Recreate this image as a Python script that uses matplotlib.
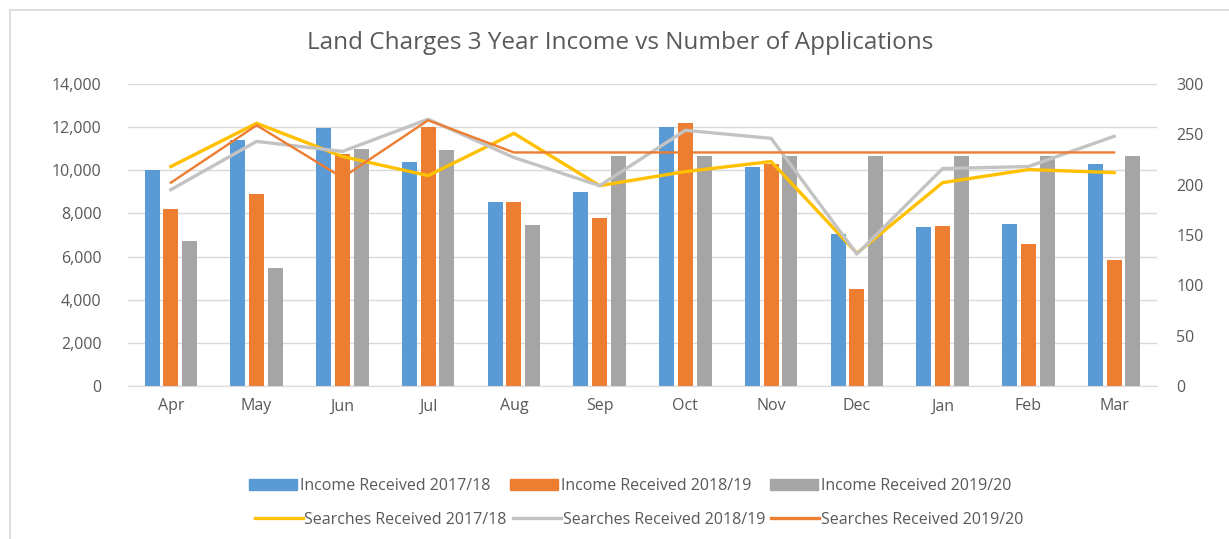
import numpy as np
import matplotlib.pyplot as plt
from matplotlib.patches import Rectangle
from matplotlib.lines import Line2D
from matplotlib.ticker import FuncFormatter

plt.rcParams['font.family'] = ['Open Sans', 'DejaVu Sans']

# data
months = ['Apr', 'May', 'Jun', 'Jul', 'Aug', 'Sep', 'Oct', 'Nov', 'Dec', 'Jan', 'Feb', 'Mar']

income_1718 = [10000, 11400, 11950, 10400, 8550, 9000, 12000, 10150, 7050, 7350, 7500, 10300]
income_1819 = [8200, 8900, 10750, 12000, 8550, 7800, 12200, 10300, 4500, 7400, 6600, 5850]
income_1920 = [6700, 5450, 11000, 10950, 7450, 10650, 10650, 10650, 10650, 10650, 10650, 10650]

searches_1718 = [218, 261, 228, 209, 251, 199, 213, 223, 132, 202, 215, 212]
searches_1819 = [195, 243, 233, 265, 227, 199, 254, 246, 131, 216, 218, 248]
searches_1920 = [202, 259, 207, 264, 232, 232, 232, 232, 232, 232, 232, 232]

blue = '#5B9BD5'
orange = '#ED7D31'
grey = '#A5A5A5'
yellow = '#FFC000'
lightgrey = '#C3C3C3'
txt = '#595959'

fig = plt.figure(figsize=(12.29, 5.39), dpi=100)
ax = fig.add_axes([128/1229, 1 - 386/539, (1157 - 128)/1229, (386 - 84)/539])

x = np.arange(len(months))
w = 0.175
step = 0.22
ax.bar(x - step, income_1718, w, color=blue, zorder=2)
ax.bar(x, income_1819, w, color=orange, zorder=2)
ax.bar(x + step, income_1920, w, color=grey, zorder=2)

ax.set_xlim(-0.5, len(months) - 0.5)
ax.set_ylim(0, 14000)
ax.set_yticks(np.arange(0, 14001, 2000))
ax.yaxis.set_major_formatter(FuncFormatter(lambda v, p: '{:,.0f}'.format(v)))
ax.set_xticks(x)
ax.set_xticklabels(months)
ax.grid(axis='y', color='#D9D9D9', linewidth=1)
ax.set_axisbelow(True)
for s in ['top', 'left', 'right']:
    ax.spines[s].set_visible(False)
ax.spines['bottom'].set_color('#D9D9D9')
ax.tick_params(axis='both', length=0, labelsize=11.5, colors=txt)
ax.tick_params(axis='y', pad=19)
ax.tick_params(axis='x', pad=9)

ax2 = ax.twinx()
ax2.plot(x, searches_1718, color=yellow, linewidth=2.4, zorder=3)
ax2.plot(x, searches_1819, color=lightgrey, linewidth=2.4, zorder=3)
ax2.plot(x, searches_1920, color=orange, linewidth=1.7, zorder=4)
ax2.set_ylim(0, 300)
ax2.set_yticks(np.arange(0, 301, 50))
for s in ['top', 'left', 'right', 'bottom']:
    ax2.spines[s].set_visible(False)
ax2.tick_params(axis='y', length=0, labelsize=11.5, colors=txt, pad=14)

fig.text(0.505, 1 - 43/539, 'Land Charges 3 Year Income vs Number of Applications',
         ha='center', va='center', fontsize=17.5, color=txt)

# chart frame (only left and top edges are visible)
fig.patches.append(Rectangle((10/1229, -0.1), 1.2, 1.1 - 10/539, transform=fig.transFigure,
                             fill=False, edgecolor='#D9D9D9', linewidth=1.2))

bar_handles = [Rectangle((0, 0), 1, 1, color=c) for c in [blue, orange, grey]]
bar_labels = ['Income Received 2017/18', 'Income Received 2018/19', 'Income Received 2019/20']
line_handles = [Line2D([0], [0], color=yellow, linewidth=2.4),
                Line2D([0], [0], color=lightgrey, linewidth=2.4),
                Line2D([0], [0], color=orange, linewidth=2.4)]
line_labels = ['Searches Received 2017/18', 'Searches Received 2018/19', 'Searches Received 2019/20']

leg1 = fig.legend(bar_handles, bar_labels, ncol=3, loc='center', bbox_to_anchor=(0.513, 1 - 486/539),
                  frameon=False, fontsize=11.5, handlelength=3.0, handleheight=0.75,
                  handletextpad=0.2, columnspacing=1.2, labelcolor=txt)
leg2 = fig.legend(line_handles, line_labels, ncol=3, loc='center', bbox_to_anchor=(0.52, 1 - 520/539),
                  frameon=False, fontsize=11.5, handlelength=3.0,
                  handletextpad=0.1, columnspacing=0.4, labelcolor=txt)

fig.savefig('out.png', dpi=100)
